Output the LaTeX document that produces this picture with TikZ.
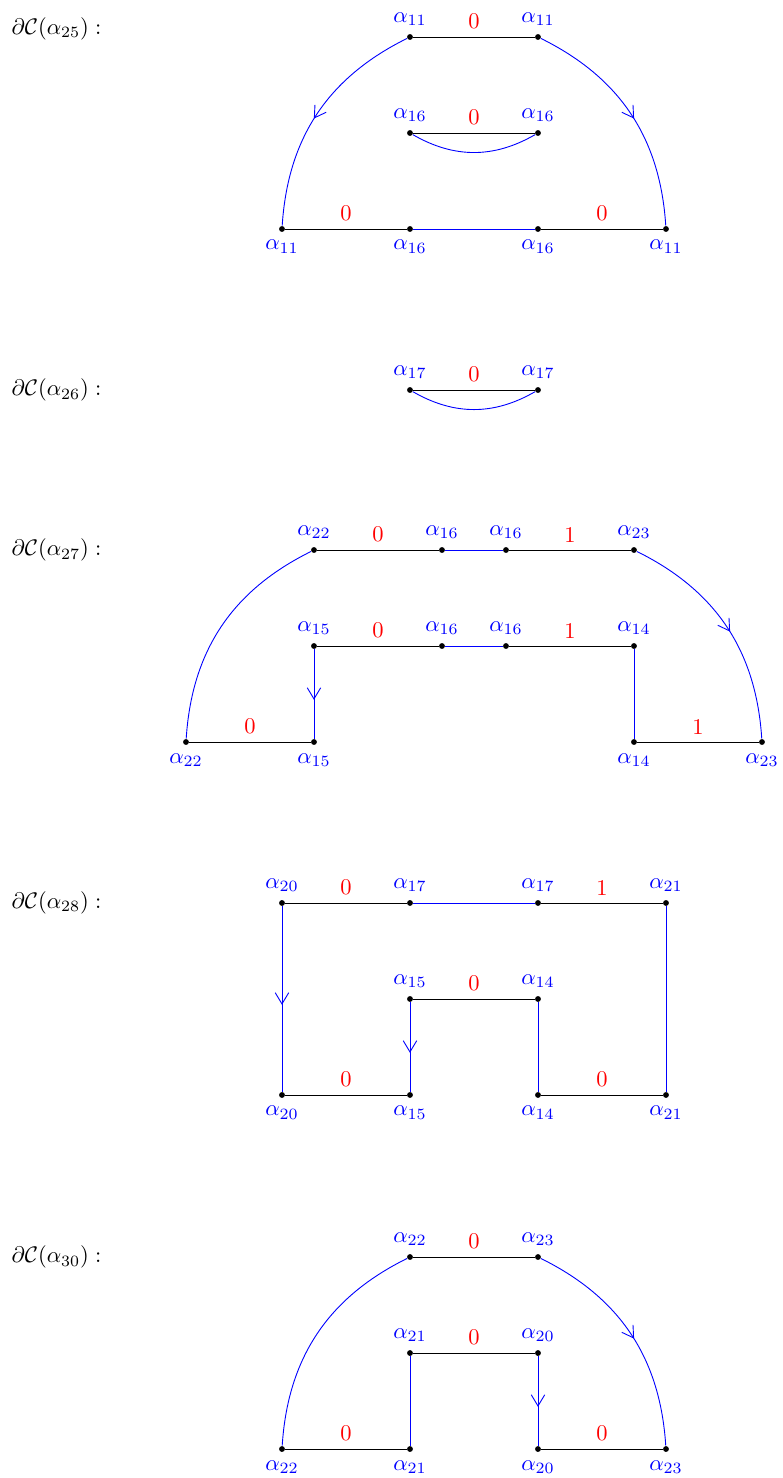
\documentclass[tikz,border=0pt]{standalone}
\usepackage{amssymb}
\usepackage{tikz}
\usetikzlibrary{arrows.meta,decorations.markings}

\tikzset{
	dot/.style={circle,fill,inner sep=0pt,minimum size=2.6pt},
	up/.style={dot,label={[blue]above:$\alpha_{#1}$}},
	dn/.style={dot,label={[blue]below:$\alpha_{#1}$}},
	num/.style={above,red},
	bd/.style={draw=blue},
	midarrow/.style={postaction={decorate},decoration={markings,
		mark=at position 0.5 with {\arrow[xshift=2.6pt]{Straight Barb[length=5pt,width=6pt]}}}},
}

\begin{document}
\begin{tikzpicture}
	\useasboundingbox (-7.406,0.578) rectangle (4.813,-22.516);
	
	% boundary of alpha_25
	\node[anchor=west,inner sep=0pt] (t25) at (-7.23,0.125) {$\partial\mathcal{C}(\alpha_{25}):$};
	\node[up=11] (a1) at (-1,0) {};
	\node[up=11] (a2) at (1,0) {};
	\node[up=16] (a3) at (-1,-1.5) {};
	\node[up=16] (a4) at (1,-1.5) {};
	\node[dn=11] (a5) at (-3,-3) {};
	\node[dn=16] (a6) at (-1,-3) {};
	\node[dn=16] (a7) at (1,-3) {};
	\node[dn=11] (a8) at (3,-3) {};
	\path
	(a1) edge node[num] {0} (a2)
	(a3) edge node[num] {0} (a4)
	(a5) edge node[num] {0} (a6)
	(a7) edge node[num] {0} (a8)
	;
	\path[bd]
	(a6) edge (a7)
	(a3) edge[bend right] (a4)
	(a1) edge[bend right,midarrow] (a5)
	(a2) edge[bend left,midarrow] (a8)
	;
	
	% boundary of alpha_26
	\begin{scope}[yshift=-5.516cm]
	\node[anchor=west,inner sep=0pt] (t26) at (-7.23,0) {$\partial\mathcal{C}(\alpha_{26}):$};
	\node[up=17] (b1) at (-1,0) {};
	\node[up=17] (b2) at (1,0) {};
	\path
	(b1) edge node[num] {0} (b2)
	;
	\path[bd]
	(b1) edge[bend right] (b2)
	;
	\end{scope}
	
	% boundary of alpha_27
	\begin{scope}[yshift=-8.016cm]
	\node[anchor=west,inner sep=0pt] (t27) at (-7.23,0) {$\partial\mathcal{C}(\alpha_{27}):$};
	\node[up=22] (c1) at (-2.5,0) {};
	\node[up=16] (c2) at (-0.5,0) {};
	\node[up=16] (c3) at (0.5,0) {};
	\node[up=23] (c4) at (2.5,0) {};
	\node[up=15] (c5) at (-2.5,-1.5) {};
	\node[up=16] (c6) at (-0.5,-1.5) {};
	\node[up=16] (c7) at (0.5,-1.5) {};
	\node[up=14] (c8) at (2.5,-1.5) {};
	\node[dn=22] (c9) at (-4.5,-3) {};
	\node[dn=15] (c10) at (-2.5,-3) {};
	\node[dn=14] (c11) at (2.5,-3) {};
	\node[dn=23] (c12) at (4.5,-3) {};
	\path
	(c1) edge node[num] {0} (c2)
	(c3) edge node[num] {1} (c4)
	(c5) edge node[num] {0} (c6)
	(c7) edge node[num] {1} (c8)
	(c9) edge node[num] {0} (c10)
	(c11) edge node[num] {1} (c12)
	;
	\path[bd]
	(c2) edge (c3)
	(c6) edge (c7)
	(c5) edge[midarrow] (c10)
	(c8) edge (c11)
	(c1) edge[bend right] (c9)
	(c4) edge[bend left,midarrow] (c12)
	;
	\end{scope}
	
	% boundary of alpha_28
	\begin{scope}[yshift=-13.531cm]
	\node[anchor=west,inner sep=0pt] (t28) at (-7.23,0) {$\partial\mathcal{C}(\alpha_{28}):$};
	\node[up=20] (d1) at (-3,0) {};
	\node[up=17] (d2) at (-1,0) {};
	\node[up=17] (d3) at (1,0) {};
	\node[up=21] (d4) at (3,0) {};
	\node[up=15] (d5) at (-1,-1.5) {};
	\node[up=14] (d6) at (1,-1.5) {};
	\node[dn=20] (d7) at (-3,-3) {};
	\node[dn=15] (d8) at (-1,-3) {};
	\node[dn=14] (d9) at (1,-3) {};
	\node[dn=21] (d10) at (3,-3) {};
	\path
	(d1) edge node[num] {0} (d2)
	(d3) edge node[num] {1} (d4)
	(d5) edge node[num] {0} (d6)
	(d7) edge node[num] {0} (d8)
	(d9) edge node[num] {0} (d10)
	;
	\path[bd]
	(d2) edge (d3)
	(d1) edge[midarrow] (d7)
	(d5) edge[midarrow] (d8)
	(d6) edge (d9)
	(d4) edge (d10)
	;
	\end{scope}
	
	% boundary of alpha_30
	\begin{scope}[yshift=-19.063cm]
	\node[anchor=west,inner sep=0pt] (t30) at (-7.23,0) {$\partial\mathcal{C}(\alpha_{30}):$};
	\node[up=22] (e1) at (-1,0) {};
	\node[up=23] (e2) at (1,0) {};
	\node[up=21] (e3) at (-1,-1.5) {};
	\node[up=20] (e4) at (1,-1.5) {};
	\node[dn=22] (e5) at (-3,-3) {};
	\node[dn=21] (e6) at (-1,-3) {};
	\node[dn=20] (e7) at (1,-3) {};
	\node[dn=23] (e8) at (3,-3) {};
	\path
	(e1) edge node[num] {0} (e2)
	(e3) edge node[num] {0} (e4)
	(e5) edge node[num] {0} (e6)
	(e7) edge node[num] {0} (e8)
	;
	\path[bd]
	(e3) edge (e6)
	(e4) edge[midarrow] (e7)
	(e1) edge[bend right] (e5)
	(e2) edge[bend left,midarrow] (e8)
	;
	\end{scope}
\end{tikzpicture}
\end{document}
